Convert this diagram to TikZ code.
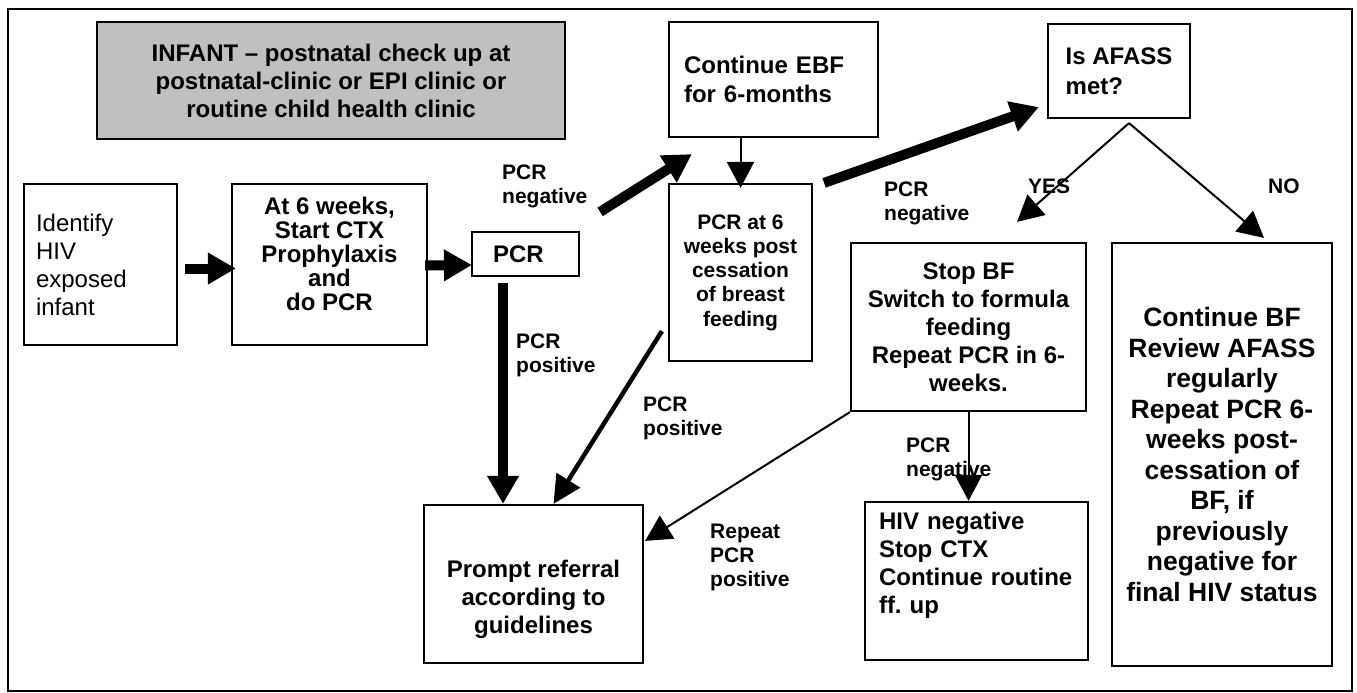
\documentclass[tikz,border=0pt]{standalone}
\usepackage{fontspec}
\setmainfont{Liberation Sans}
\usetikzlibrary{arrows.meta,calc}
\definecolor{boxgray}{RGB}{192,192,192}

\begin{document}
\begin{tikzpicture}[x=1pt,y=-1pt,
  box/.style={draw=black, line width=2.2pt, inner sep=0pt, align=center,
    font=\fontsize{24}{28}\selectfont\bfseries},
  lbl/.style={inner sep=0pt, anchor=west, align=left,
    font=\fontsize{21}{24}\selectfont\bfseries},
  light/.style={line width=2pt, -{Triangle[length=26pt,width=27pt]}},
  mid/.style={line width=4.5pt, -{Triangle[length=28pt,width=27pt]}},
  heavy/.style={line width=10pt, -{Triangle[length=28pt,width=30pt]}},
]
\useasboundingbox (0,0) rectangle (1357,693);
\draw[line width=2pt] (8,9) rectangle (1352,691);

% boxes
\node[box, fill=boxgray, minimum width=468pt, minimum height=117pt] (head) at (331,80.5)
  {INFANT – postnatal check up at\\postnatal-clinic or EPI clinic or\\routine child health clinic};
\node[box, font=\fontsize{24}{28}\selectfont, text width=129pt, inner xsep=12pt, align=left,
  minimum height=161pt] (ident) at (100.5,264.5) {Identify\\HIV\\exposed\\infant};
\node[box, minimum width=195pt, minimum height=161pt, font=\fontsize{24}{24}\selectfont\bfseries]
  (at6) at (329.5,264.5) {At 6 weeks,\\Start CTX\\Prophylaxis\\and\\do PCR\\[-10pt]\strut};
\node[box, text width=65pt, inner xsep=21pt, align=left, minimum height=44pt] (pcr) at (525.5,254) {PCR};
\node[box, text width=179pt, inner xsep=15pt, align=left, minimum height=115pt,
  font=\fontsize{24}{29}\selectfont\bfseries] (ebf) at (773.5,79.5) {Continue EBF\\for 6-months};
\node[box, minimum width=142pt, minimum height=94pt, align=left,
  font=\fontsize{24}{30}\selectfont\bfseries] (afass) at (1119,71) {Is AFASS\\met?};
\node[box, minimum width=143pt, minimum height=177pt, font=\fontsize{21}{24.25}\selectfont\bfseries]
  (pcr6) at (740.5,272.5) {PCR at 6\\weeks post\\cessation\\of breast\\feeding};
\node[box, minimum width=235pt, minimum height=168pt] (stopbf) at (968.5,327)
  {Stop BF\\Switch to formula\\feeding\\Repeat PCR in 6-\\weeks.};
\node[box, minimum width=220pt, minimum height=423pt, font=\fontsize{26.5}{30.5}\selectfont\bfseries]
  (contbf) at (1222,454.5)
  {Continue BF\\Review AFASS\\regularly\\Repeat PCR 6-\\weeks post-\\cessation of\\BF, if\\previously\\negative for\\final HIV status};
\node[box, text width=195pt, inner xsep=14pt, align=left, minimum height=158pt] (hivneg) at (976.5,581)
  {HIV negative\\Stop CTX\\Continue routine\\ff.\ up\\\strut};
\node[box, minimum width=219pt, minimum height=158pt] (prompt) at (533.5,584)
  {\strut\\Prompt referral\\according to\\guidelines};

% connectors
\coordinate (pcrdrop) at ($(pcr.south)+(-22.5,6)$);
\coordinate (split) at ($(afass.south)+(10,4)$);
\draw[heavy] ($(ident.east)+(7,4)$) -- ($(at6.west)+(5,4)$);
\draw[heavy] ($(at6.east)+(-3,1)$) -- ($(pcr.west)+(1,11)$);
\draw[heavy] (pcrdrop) -- (pcrdrop |- prompt.north);
\draw[heavy] ($(pcr.north east)+(20,-19)$) -- ($(ebf.south west)+(24,16)$);
\draw[light] (pcr6.north |- ebf.south) -- ($(pcr6.north)+(0,5)$);
\draw[heavy] ($(pcr6.north east)+(11,0)$) -- ($(afass.south west)+(-8,-12)$);
\draw[mid] ($(pcr6.south west)+(-6,-31)$) -- ($(prompt.north)+(20,0)$);
\draw[light] (stopbf.south west) -- ($(prompt.north east)+(1,37)$);
\draw[light] (split) -- ($(stopbf.north)+(48.5,-20)$);
\draw[light] (split) -- ($(contbf.north)+(42,-4)$);
\draw[light] (stopbf.south) -- (stopbf.south |- hivneg.north);

% connector labels
\node[lbl] (neg1) at (502,186) {PCR\\negative};
\node[lbl] (pos1) at (516,355) {PCR\\positive};
\node[lbl] (pos2) at (643,418.5) {PCR\\positive};
\node[lbl] (neg2) at (884,203.5) {PCR\\negative};
\node[lbl] (yes) at (1028,186) {YES};
\node[lbl] (no) at (1268,186) {NO};
\node[lbl] (neg3) at (906,459.5) {PCR\\negative};
\node[lbl] (pos3) at (710,557) {Repeat\\PCR\\positive};
\end{tikzpicture}
\end{document}
